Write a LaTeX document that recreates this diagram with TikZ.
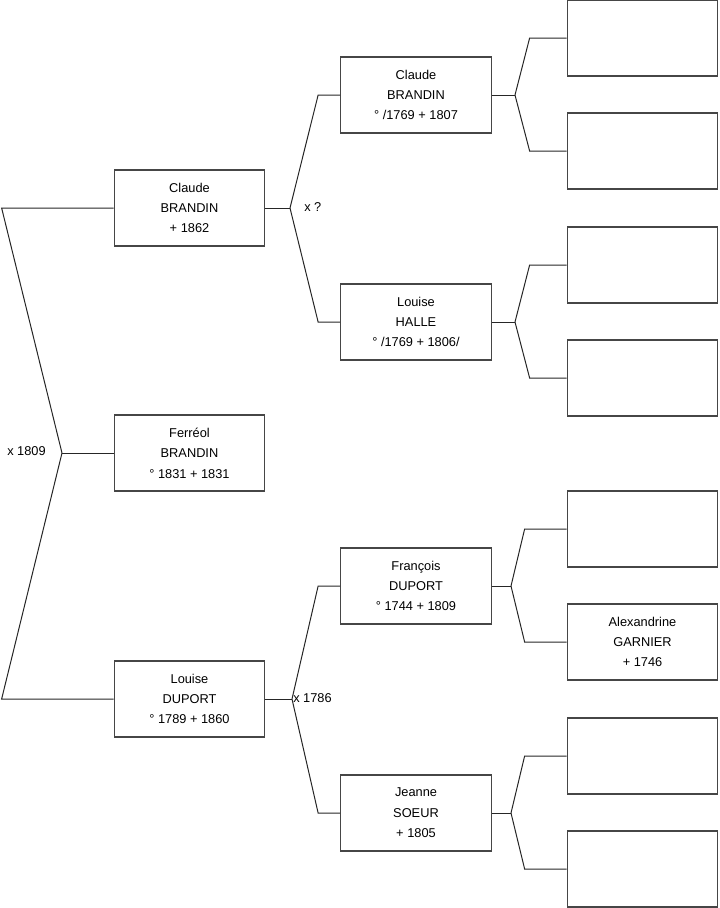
\documentclass[tikz,border=0pt]{standalone}
\usepackage{fontspec}
\setmainfont{Liberation Sans}
\usetikzlibrary{positioning}
\definecolor{boxLine}{RGB}{70,70,70}
\tikzset{
  person/.style={rectangle, draw=boxLine, fill=white, line width=0.8pt,
                 minimum width=113pt, minimum height=57pt, align=center,
                 font=\fontsize{9.6}{15.3}\selectfont, inner sep=0pt},
  link/.style={draw=black!85, line width=0.75pt},
  lbl/.style={font=\fontsize{9.6}{11}\selectfont, inner sep=0pt, anchor=west},
}
\begin{document}
\begin{tikzpicture}[x=0.75pt, y=-0.75pt]
  \useasboundingbox (0,0) rectangle (719,908);

  % generation 1
  \node[person] (fath) at (189.5,208) {Claude\\BRANDIN\\+ 1862};
  \node[person] (chld) at (189.5,453) {Ferréol\\BRANDIN\\° 1831 + 1831};
  \node[person] (moth) at (189.5,699) {Louise\\DUPORT\\° 1789 + 1860};

  % generation 2
  \node[person] (ff) at (416,95)  {Claude\\BRANDIN\\° /1769 + 1807};
  \node[person] (fm) at (416,322) {Louise\\HALLE\\° /1769 + 1806/};
  \node[person] (mf) at (416,586) {François\\DUPORT\\° 1744 + 1809};
  \node[person] (mm) at (416,813) {Jeanne\\SOEUR\\+ 1805};

  % generation 3
  \node[person] (fff) at (642.5,38)  {};
  \node[person] (ffm) at (642.5,151) {};
  \node[person] (fmf) at (642.5,265) {};
  \node[person] (fmm) at (642.5,378) {};
  \node[person] (mff) at (642.5,529) {};
  \node[person] (mfm) at (642.5,642) {Alexandrine\\GARNIER\\+ 1746};
  \node[person] (mmf) at (642.5,756) {};
  \node[person] (mmm) at (642.5,869) {};

  % fork points
  \coordinate (k0) at (62,453);
  \coordinate (k1) at (290,208);
  \coordinate (k2) at (292,699);
  \coordinate (k3) at (515,95);
  \coordinate (k4) at (515,322);
  \coordinate (k5) at (511,586);
  \coordinate (k6) at (511,813);

  % marriages
  \draw[link] (k0) -- (chld.west);
  \draw[link] (fath.west) -- ++(-112,0) -- (k0);
  \draw[link] (moth.west) -- ++(-112,0) -- (k0);
  \node[lbl] (m0) at (7,451) {x 1809};

  \draw[link] (fath.east) -- (k1);
  \draw[link] (ff.west) -- ++(-22,0) -- (k1);
  \draw[link] (fm.west) -- ++(-22,0) -- (k1);
  \node[lbl] (m1) at (304,207) {x ?};

  \draw[link] (moth.east) -- (k2);
  \draw[link] (mf.west) -- ++(-22,0) -- (k2);
  \draw[link] (mm.west) -- ++(-22,0) -- (k2);
  \node[lbl] (m2) at (293,698) {x 1786};

  \draw[link] (ff.east) -- (k3);
  \draw[link] (fff.west) -- ++(-37,0) -- (k3);
  \draw[link] (ffm.west) -- ++(-37,0) -- (k3);

  \draw[link] (fm.east) -- (k4);
  \draw[link] (fmf.west) -- ++(-37,0) -- (k4);
  \draw[link] (fmm.west) -- ++(-37,0) -- (k4);

  \draw[link] (mf.east) -- (k5);
  \draw[link] (mff.west) -- ++(-42,0) -- (k5);
  \draw[link] (mfm.west) -- ++(-42,0) -- (k5);

  \draw[link] (mm.east) -- (k6);
  \draw[link] (mmf.west) -- ++(-42,0) -- (k6);
  \draw[link] (mmm.west) -- ++(-42,0) -- (k6);
\end{tikzpicture}
\end{document}
